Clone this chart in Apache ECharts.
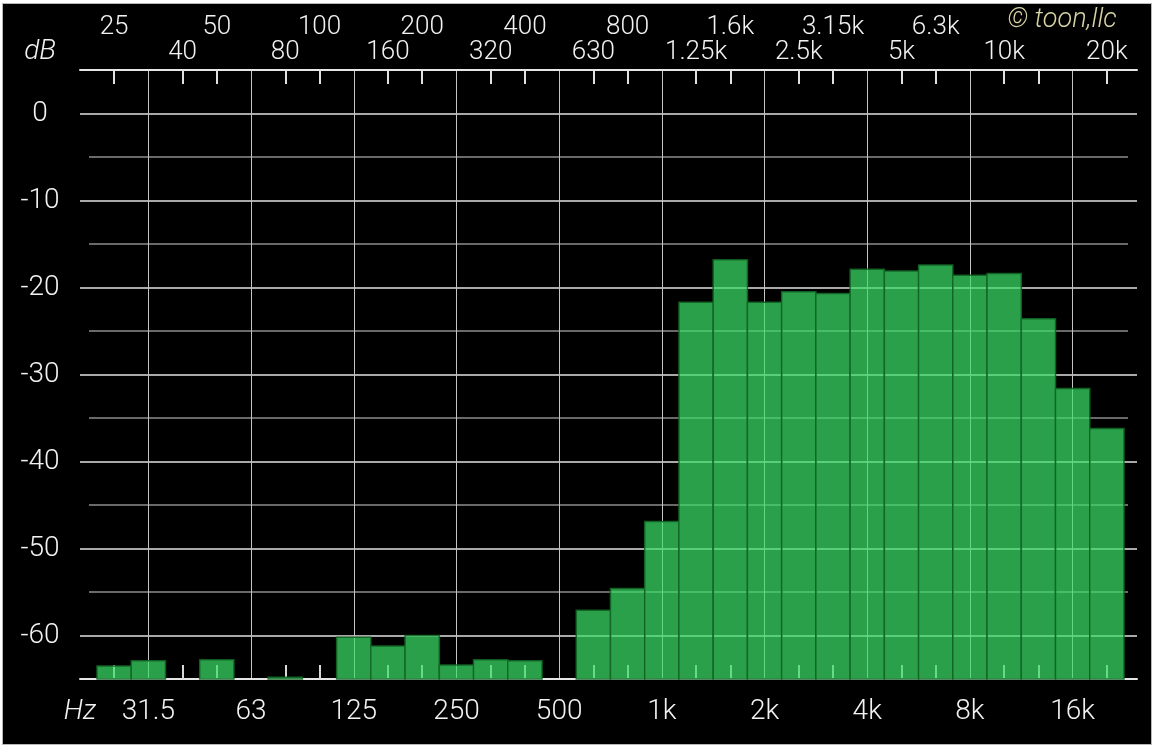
<!DOCTYPE html>
<html><head><meta charset="utf-8">
<script src="https://cdn.jsdelivr.net/npm/echarts@6/dist/echarts.min.js"></script>
<style>
html,body{margin:0;padding:0;background:#fff;}
#frame{position:absolute;left:2px;top:3px;width:1148px;height:740px;background:#000;border:1px solid #b8b8b8;}
#chart{position:absolute;left:0;top:0;width:1157px;height:750px;}
</style></head><body>
<div id="frame"></div><div id="chart"></div>
<script>
// 1/3-octave band labels (25 Hz .. 20 kHz)
const bands = ['25','31.5','40','50','63','80','100','125','160','200','250','320','400','500','630','800','1k','1.25k','1.6k','2k','2.5k','3.15k','4k','5k','6.3k','8k','10k','12.5k','16k','20k'];
// level per band in dB (null = below floor)
const levels = [-63.5,-62.9,null,-62.8,null,-64.8,null,-60.2,-61.2,-60.0,-63.4,-62.8,-62.9,null,-57.1,-54.6,-46.9,-21.7,-16.8,-21.7,-20.5,-20.7,-17.9,-18.1,-17.4,-18.6,-18.4,-23.6,-31.6,-36.2];
const dbMin = -65, dbMax = 5, dbStep = 5;
const hiddenTopLabels = ['12.5k'];

const FONT = 'Roboto, "Liberation Sans", sans-serif';
const TXT = '#f2f2f2';
const isOct = i => i % 3 === 1;
const W = 1027 / bands.length;

const chart = echarts.init(document.getElementById('chart'), null, {renderer: 'canvas'});
const gTop = 70, gBottom = 71;
const hiddenVal = (gi, pos) => ({type: 'value', gridIndex: gi, position: pos, min: 0, max: 1,
  axisLine: {show: true, onZero: false, lineStyle: {color: '#e6e6e6', width: 2}}, axisTick: {show: false},
  axisLabel: {show: false}, splitLine: {show: false}});

chart.setOption({
  backgroundColor: 'transparent',
  animation: false,
  grid: [
    {left: 80, right: 20, top: gTop, bottom: gBottom},
    {left: 97, right: 33, top: gTop, bottom: gBottom},
    {left: 89, right: 29, top: gTop, bottom: gBottom},
    {left: 97 + W / 2, right: 33 + W / 2, top: gTop, bottom: gBottom}
  ],
  xAxis: [
    hiddenVal(0, 'bottom'),
    hiddenVal(0, 'top'),
    {type: 'category', gridIndex: 1, position: 'bottom', data: bands, boundaryGap: true,
      axisLine: {show: false, onZero: false},
      axisTick: {show: true, inside: true, length: 14, alignWithLabel: true,
        interval: (i) => !isOct(i), lineStyle: {color: '#d8d8d8', width: 2}},
      axisLabel: {show: true, interval: (i) => isOct(i), margin: 19,
        color: TXT, fontSize: 28, fontFamily: FONT, fontWeight: 300},
      splitLine: {show: false}},
    {type: 'category', gridIndex: 1, position: 'top', data: bands, boundaryGap: true,
      axisLine: {show: false, onZero: false},
      axisTick: {show: true, inside: true, length: 14, alignWithLabel: true,
        interval: (i) => !isOct(i), lineStyle: {color: '#e0e0e0', width: 2}},
      axisLabel: {show: true, interval: (i) => i % 3 === 2, margin: 5,
        color: TXT, fontSize: 26, fontFamily: FONT, fontWeight: 300},
      splitLine: {show: false}},
    {type: 'category', gridIndex: 1, position: 'top', offset: 25, data: bands, boundaryGap: true,
      axisLine: {show: false, onZero: false}, axisTick: {show: false},
      axisLabel: {show: true, interval: (i, v) => i % 3 === 0 && hiddenTopLabels.indexOf(v) < 0, margin: 5,
        color: TXT, fontSize: 26, fontFamily: FONT, fontWeight: 300},
      splitLine: {show: false}},
    {type: 'value', gridIndex: 2, min: 0, max: 1, show: false},
    {type: 'category', gridIndex: 3, data: bands, boundaryGap: false,
      axisLine: {show: false, onZero: false}, axisTick: {show: false}, axisLabel: {show: false},
      splitLine: {show: true, interval: (i) => isOct(i), lineStyle: {color: '#c4c4c4', width: 1}}}
  ],
  yAxis: [
    {type: 'value', gridIndex: 0, min: dbMin, max: dbMax, interval: dbStep,
      axisLine: {show: false}, axisTick: {show: false},
      axisLabel: {show: true, margin: 40, align: 'center', color: TXT, fontSize: 28, fontFamily: FONT, fontWeight: 300,
        padding: [5, 0, 0, 0],
        formatter: (v) => (v % 10 === 0 && v <= 0) ? String(v) : ''},
      splitLine: {show: true, lineStyle: {color: ['rgba(0,0,0,0)', '#e2e2e2'], width: 1.5}}},
    {type: 'value', gridIndex: 1, min: dbMin, max: dbMax, show: false},
    {type: 'value', gridIndex: 2, min: dbMin, max: dbMax, interval: dbStep,
      axisLine: {show: false}, axisTick: {show: false}, axisLabel: {show: false},
      splitLine: {show: true, lineStyle: {color: ['#8c8c8c', 'rgba(0,0,0,0)'], width: 1.5}}},
    {type: 'value', gridIndex: 3, min: dbMin, max: dbMax, show: false}
  ],
  series: [{
    type: 'custom', xAxisIndex: 2, yAxisIndex: 1,
    data: levels.map((v, i) => [i, v == null ? '-' : v]),
    renderItem: (params, api) => {
      const v = api.value(1);
      if (v == null || isNaN(v)) return;
      const top = api.coord([api.value(0), v]);
      const bot = api.coord([api.value(0), dbMin]);
      const w = api.size([1, 0])[0];
      return {type: 'rect',
        shape: {x: top[0] - w / 2, y: top[1], width: w, height: bot[1] - top[1]},
        style: {fill: 'rgba(60,222,104,0.72)', stroke: 'rgba(18,100,36,0.9)', lineWidth: 1.5}};
    }
  }],
  graphic: [
    {type: 'text', x: 40, y: 52, style: {text: 'dB', fill: TXT, font: 'italic 300 28px ' + FONT, align: 'center', verticalAlign: 'middle'}},
    {type: 'text', x: 80, y: 712, style: {text: 'Hz', fill: TXT, font: 'italic 300 28px ' + FONT, align: 'center', verticalAlign: 'middle'}},
    {type: 'text', x: 1062, y: 20, style: {text: '© toon,llc', fill: '#d6d3a4', font: 'italic 300 27px ' + FONT, align: 'center', verticalAlign: 'middle'}}
  ]
});
</script>
</body></html>
